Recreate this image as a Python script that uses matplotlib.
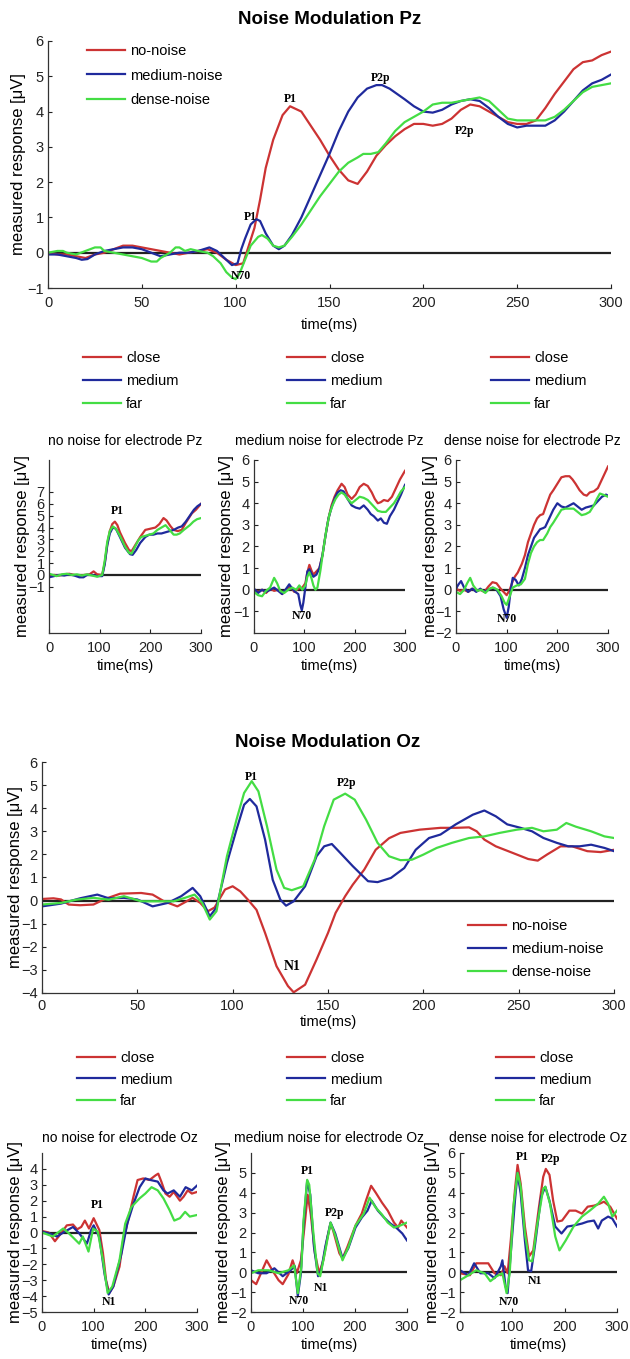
import matplotlib
matplotlib.use("Agg")
import matplotlib.pyplot as plt

# ---------------- data (time ms, response uV) ----------------
# Noise Modulation Pz (main)
pz_no_noise = [(0,0.0),(5,-0.05),(10,-0.05),(15,-0.1),(20,-0.15),(25,-0.05),(30,0.0),(35,0.1),(40,0.2),(45,0.2),
    (50,0.15),(55,0.1),(60,0.05),(65,0.0),(70,-0.05),(75,0.0),(80,0.05),(85,0.1),(90,0.0),(95,-0.2),(100,-0.35),
    (104,-0.3),(107,0.2),(110,0.7),(113,1.5),(116,2.4),(120,3.2),(125,3.9),(129,4.15),(135,4.0),(140,3.6),(145,3.2),
    (150,2.75),(155,2.35),(160,2.05),(165,1.95),(170,2.3),(175,2.75),(180,3.05),(185,3.3),(190,3.5),(195,3.65),
    (200,3.65),(205,3.6),(210,3.65),(215,3.8),(220,4.05),(225,4.2),(230,4.15),(235,4.0),(240,3.85),(245,3.7),
    (250,3.65),(255,3.65),(260,3.75),(265,4.1),(270,4.5),(275,4.85),(280,5.2),(285,5.4),(290,5.45),(295,5.6),(300,5.7)]
pz_medium_noise = [(0,-0.05),(5,-0.05),(10,-0.1),(15,-0.15),(18,-0.2),(21,-0.18),(25,-0.05),(30,0.05),(35,0.1),
    (40,0.15),(45,0.15),(50,0.1),(55,0.0),(60,-0.1),(65,-0.05),(70,0.0),(75,0.0),(80,0.05),(86,0.15),(90,0.05),
    (95,-0.2),(98,-0.35),(101,-0.3),(103,0.1),(105,0.4),(108,0.8),(111,0.95),(113,0.9),(116,0.55),(120,0.2),
    (123,0.1),(126,0.2),(130,0.5),(135,1.0),(140,1.6),(145,2.2),(150,2.8),(155,3.45),(160,4.0),(165,4.4),(170,4.65),
    (175,4.75),(178,4.75),(182,4.65),(186,4.5),(190,4.35),(195,4.15),(200,4.0),(205,3.97),(210,4.05),(215,4.2),
    (220,4.3),(225,4.35),(230,4.3),(235,4.1),(240,3.85),(245,3.65),(250,3.55),(255,3.6),(260,3.6),(265,3.6),
    (270,3.75),(275,4.0),(280,4.3),(285,4.6),(290,4.8),(295,4.9),(300,5.05)]
pz_dense_noise = [(0,0.0),(5,0.05),(8,0.05),(10,0.0),(15,-0.05),(20,0.05),(25,0.15),(28,0.15),(30,0.05),(35,0.0),
    (40,-0.05),(45,-0.1),(50,-0.15),(55,-0.25),(58,-0.25),(60,-0.15),(65,0.0),(68,0.15),(70,0.15),(73,0.05),(76,0.1),
    (80,0.05),(85,0.0),(88,-0.1),(92,-0.3),(95,-0.55),(98,-0.7),(100,-0.75),(102,-0.6),(105,-0.2),(108,0.2),
    (112,0.45),(114,0.5),(117,0.4),(120,0.2),(123,0.15),(126,0.2),(130,0.45),(135,0.8),(140,1.2),(145,1.6),
    (150,1.95),(155,2.3),(160,2.55),(165,2.7),(168,2.8),(172,2.8),(176,2.85),(180,3.1),(185,3.45),(190,3.7),
    (195,3.85),(200,4.0),(205,4.2),(210,4.25),(215,4.25),(220,4.3),(225,4.35),(230,4.4),(235,4.3),(240,4.05),
    (245,3.8),(250,3.75),(255,3.75),(260,3.75),(265,3.75),(270,3.85),(275,4.05),(280,4.3),(285,4.55),(290,4.7),
    (295,4.75),(300,4.8)]

# Pz sub-panels: no noise
pz_nn_close = [(0,-0.1),(10,0.0),(20,-0.05),(30,0.05),(40,0.1),(50,0.0),(60,-0.05),(70,0.0),(80,0.05),(88,0.3),
    (95,0.05),(105,0.0),(110,1.0),(115,2.6),(120,3.7),(125,4.3),(130,4.5),(135,4.2),(140,3.6),(150,2.7),(158,2.1),
    (163,2.0),(170,2.5),(180,3.2),(190,3.8),(200,3.9),(210,4.0),(218,4.3),(226,4.8),(232,4.6),(240,4.1),(246,3.8),
    (254,3.7),(262,3.8),(270,4.4),(276,4.8),(282,5.2),(290,5.5),(300,6.0)]
pz_nn_medium = [(0,-0.2),(10,-0.1),(20,0.0),(30,-0.05),(40,0.05),(50,-0.05),(60,-0.2),(68,-0.2),(75,0.0),(85,0.0),
    (95,-0.1),(105,-0.1),(110,0.9),(115,2.5),(120,3.5),(126,4.0),(132,3.9),(140,3.2),(150,2.3),(160,1.75),(165,1.7),
    (172,2.1),(180,2.7),(190,3.2),(198,3.4),(206,3.4),(214,3.5),(222,3.5),(230,3.6),(238,3.7),(246,3.8),(255,4.0),
    (262,4.1),(270,4.5),(278,5.0),(286,5.5),(293,5.8),(300,6.0)]
pz_nn_far = [(0,0.1),(8,0.0),(15,-0.1),(25,0.05),(35,0.1),(45,0.0),(55,0.05),(65,-0.05),(75,0.05),(85,-0.05),
    (95,-0.15),(105,0.0),(110,1.2),(115,2.8),(120,3.7),(126,4.1),(132,3.9),(140,3.3),(150,2.4),(158,1.85),(163,1.8),
    (170,2.4),(176,2.9),(182,3.2),(190,3.3),(198,3.4),(206,3.5),(214,3.8),(222,4.0),(230,4.2),(238,3.8),(246,3.4),
    (252,3.4),(258,3.5),(266,3.8),(272,4.0),(278,4.2),(285,4.5),(292,4.7),(300,4.8)]

# Pz sub-panels: medium noise
pz_mn_close = [(0,0.0),(8,-0.1),(16,0.0),(24,-0.15),(32,0.05),(40,-0.05),(48,0.0),(56,-0.2),(64,0.0),(72,0.15),
    (80,-0.1),(88,0.05),(96,0.1),(102,0.3),(106,0.8),(110,1.15),(114,0.9),(118,0.7),(124,0.85),(130,1.0),(136,1.6),
    (142,2.5),(148,3.3),(154,3.9),(160,4.3),(166,4.6),(174,4.9),(180,4.75),(186,4.4),(194,4.2),(202,4.4),(210,4.75),
    (218,4.9),(226,4.8),(234,4.5),(240,4.2),(246,4.0),(252,4.05),(258,4.15),(266,4.1),(274,4.3),(282,4.7),(290,5.1),
    (300,5.5)]
pz_mn_medium = [(0,0.05),(8,-0.15),(16,0.0),(24,-0.1),(32,0.0),(40,0.1),(48,-0.05),(56,-0.2),(64,0.05),(70,0.25),
    (76,0.05),(82,-0.1),(88,-0.2),(92,-0.7),(95,-0.95),(98,-0.6),(102,0.1),(106,0.85),(110,0.95),(114,0.75),
    (118,0.6),(124,0.7),(130,1.0),(136,1.6),(142,2.5),(148,3.3),(154,3.8),(160,4.2),(166,4.5),(172,4.6),(178,4.55),
    (186,4.2),(194,3.9),(202,3.8),(210,3.75),(218,3.9),(226,3.7),(232,3.5),(238,3.4),(246,3.2),(252,3.3),(258,3.1),
    (264,3.05),(270,3.4),(278,3.7),(286,4.1),(292,4.4),(300,4.85)]
pz_mn_far = [(0,-0.1),(8,-0.25),(16,-0.3),(24,-0.05),(32,0.1),(40,0.55),(46,0.3),(52,-0.05),(60,-0.15),(68,0.0),
    (76,0.1),(84,0.0),(90,0.2),(96,0.0),(102,0.2),(106,0.6),(110,0.8),(114,0.55),(118,0.2),(122,0.0),(126,0.1),
    (132,0.9),(138,1.9),(144,2.8),(150,3.5),(156,3.9),(162,4.2),(168,4.4),(174,4.5),(180,4.4),(186,4.2),(194,4.0),
    (202,4.15),(210,4.3),(218,4.25),(226,4.15),(234,3.95),(240,3.8),(246,3.65),(254,3.6),(262,3.6),(270,3.8),
    (278,4.0),(286,4.3),(292,4.55),(300,4.75)]

# Pz sub-panels: dense noise
pz_dn_close = [(0,0.05),(8,-0.05),(16,0.0),(24,-0.1),(32,0.05),(40,-0.05),(48,0.0),(56,-0.1),(64,0.15),(72,0.35),
    (80,0.3),(88,0.05),(96,-0.15),(100,-0.25),(106,0.0),(112,0.4),(116,0.6),(122,0.8),(130,1.2),(136,1.6),(142,2.2),
    (148,2.6),(154,3.0),(160,3.3),(166,3.45),(172,3.5),(178,3.9),(186,4.4),(192,4.6),(200,4.9),(208,5.2),(216,5.25),
    (224,5.25),(230,5.1),(236,4.9),(244,4.6),(252,4.4),(258,4.35),(264,4.5),(272,4.55),(280,4.7),(288,5.1),
    (294,5.4),(300,5.7)]
pz_dn_medium = [(0,0.05),(5,0.25),(10,0.4),(16,0.1),(24,-0.1),(32,0.05),(40,-0.1),(48,0.05),(56,-0.1),(64,0.0),
    (72,0.1),(80,0.0),(88,-0.3),(94,-0.9),(100,-1.3),(104,-0.8),(108,0.0),(112,0.55),(118,0.45),(124,0.2),(130,0.5),
    (136,1.0),(142,1.6),(148,2.0),(154,2.4),(160,2.6),(166,2.8),(172,2.85),(176,2.9),(184,3.3),(192,3.7),(200,4.0),
    (208,3.85),(216,3.8),(224,3.9),(232,4.0),(240,3.85),(248,3.7),(256,3.8),(264,3.85),(272,3.9),(280,4.1),
    (288,4.3),(296,4.4),(300,4.35)]
pz_dn_far = [(0,-0.1),(8,-0.2),(16,0.0),(22,0.3),(28,0.55),(34,0.2),(42,-0.05),(50,0.0),(58,-0.15),(66,0.05),
    (74,0.1),(82,0.0),(90,-0.3),(96,-0.6),(100,-0.7),(106,-0.3),(112,0.1),(120,0.2),(128,0.25),(136,0.5),(142,1.2),
    (148,1.7),(154,2.0),(160,2.2),(166,2.3),(172,2.3),(180,2.6),(186,2.9),(192,3.1),(200,3.4),(208,3.7),(216,3.75),
    (224,3.75),(232,3.75),(240,3.6),(248,3.45),(256,3.5),(264,3.6),(272,3.9),(278,4.2),(284,4.45),(290,4.4),(300,4.3)]

# Noise Modulation Oz (main)
oz_no_noise = [(0,0.07),(6,0.1),(10,0.05),(14,-0.17),(20,-0.2),(27,-0.17),(33,0.07),(41,0.3),(52,0.33),(58,0.26),
    (64,-0.03),(71,-0.25),(75,-0.07),(79,0.12),(83,-0.1),(87,-0.46),(90.5,-0.3),(96,0.48),(100,0.62),(104,0.4),
    (108,0.04),(112.5,-0.4),(117,-1.4),(123,-2.84),(129,-3.7),(132,-3.97),(138,-3.64),(144,-2.55),(150,-1.4),
    (154,-0.53),(159,0.19),(163,0.69),(169,1.34),(175,2.2),(182,2.7),(188,2.93),(198,3.07),(209,3.15),(217,3.15),
    (224,3.17),(228,3.0),(232,2.64),(238,2.35),(247,2.06),(255,1.8),(260,1.73),(265,2.0),(272,2.35),(278,2.35),
    (286,2.14),(293,2.1),(300,2.2)]
oz_medium_noise = [(0,-0.25),(10,-0.13),(20,0.1),(29,0.26),(35,0.1),(43,0.12),(50,0.05),(58,-0.25),(66,-0.1),
    (73,0.19),(79,0.55),(83,0.19),(88,-0.68),(91.5,-0.3),(97,1.63),(102,3.07),(106,4.15),(109,4.4),(112.5,4.08),
    (117,2.64),(121,0.9),(125,0.04),(128,-0.22),(132,-0.03),(138,0.62),(144,1.92),(148,2.35),(152,2.45),(156.5,2.06),
    (163,1.49),(171,0.84),(176,0.8),(183,0.98),(190,1.41),(196,2.2),(203,2.71),(209,2.86),(217,3.3),(226,3.72),
    (232,3.9),(238,3.65),(244,3.3),(251,3.15),(257,3.0),(263,2.71),(270,2.5),(276,2.35),(282,2.35),(288,2.42),
    (295,2.28),(300,2.14)]
oz_dense_noise = [(0,-0.17),(10,-0.1),(18,0.04),(27,0.12),(35,0.04),(43,0.19),(52,-0.03),(60,-0.03),(69,-0.03),
    (75,0.12),(80,0.26),(84,-0.1),(88,-0.82),(91.5,-0.46),(97,1.92),(102,3.5),(106,4.66),(110,5.17),(113.5,4.73),
    (118,3.22),(123,1.34),(127,0.55),(131,0.45),(137,0.62),(143,1.77),(148,3.22),(153,4.37),(159,4.63),(164,4.37),
    (170,3.5),(176,2.5),(182,1.92),(188,1.75),(194,1.77),(200,1.99),(207,2.28),(215,2.5),(224,2.71),(232,2.78),
    (240,2.93),(249,3.07),(257,3.15),(263,3.0),(270,3.07),(275,3.36),(280,3.2),(288,3.0),(295,2.78),(300,2.71)]

# Oz sub-panels: no noise
oz_nn_close = [(0,0.1),(13,0.0),(25,-0.55),(37,-0.05),(48,0.45),(60,0.5),(68,0.2),(76,0.35),(83,0.75),(91,0.25),
    (100,0.9),(111,0.15),(118,-1.3),(124,-3.0),(130,-3.8),(138,-3.4),(150,-2.15),(157,-0.5),(165,0.55),(177,2.25),
    (185,3.3),(196,3.4),(208,3.3),(220,3.6),(225,3.7),(231,3.2),(239,2.45),(247,2.25),(255,2.55),(267,2.0),
    (274,2.25),(282,2.65),(290,2.45),(300,2.55)]
oz_nn_medium = [(0,0.05),(13,-0.05),(29,-0.25),(44,0.05),(60,0.35),(72,-0.05),(87,-0.7),(95,0.15),(100,0.45),
    (111,-0.3),(121,-2.6),(129,-3.9),(138,-3.4),(154,-1.3),(165,0.55),(177,1.8),(189,2.85),(200,3.4),(210,3.3),
    (224,3.2),(235,2.65),(243,2.45),(255,2.65),(267,2.25),(278,2.85),(290,2.65),(300,2.95)]
oz_nn_far = [(0,0.0),(21,-0.25),(41,0.25),(52,-0.05),(72,-0.7),(79,-0.25),(90,-1.2),(99,0.25),(108,0.05),
    (118,-1.75),(127,-3.8),(136,-3.4),(150,-1.75),(161,0.55),(173,1.6),(189,2.15),(200,2.45),(212,2.85),(224,2.65),
    (235,2.15),(247,1.4),(256,0.75),(267,0.9),(277,1.3),(286,1.0),(300,1.1)]

# Oz sub-panels: medium noise
oz_mn_close = [(0,-0.4),(10,-0.6),(30,0.6),(41,0.1),(53,-0.4),(61,-0.6),(72,-0.1),(80,0.6),(88,-0.05),(96,0.6),
    (104,2.6),(109,3.9),(115,2.9),(123,0.95),(131,-0.05),(139,0.6),(147,1.75),(153,2.45),(158,2.1),(170,0.95),
    (176,0.7),(185,1.25),(201,2.35),(213,2.95),(221,3.6),(231,4.35),(240,4.0),(252,3.5),(263,3.1),(275,2.5),
    (283,2.25),(289,2.6),(300,2.25)]
oz_mn_medium = [(0,0.1),(14,-0.05),(30,-0.05),(45,0.2),(61,-0.2),(76,0.1),(84,0.3),(90,-1.2),(96,-0.05),(101,2.4),
    (108,4.6),(114,3.9),(121,1.3),(129,-0.2),(135,0.1),(143,1.3),(153,2.5),(162,1.95),(176,0.7),(187,1.2),(201,2.25),
    (213,2.75),(224,3.1),(232,3.6),(244,3.1),(256,2.75),(268,2.45),(279,2.25),(291,1.95),(300,1.6)]
oz_mn_far = [(0,-0.05),(14,0.1),(34,0.1),(53,-0.05),(72,0.1),(83,0.35),(90,-1.05),(97,0.3),(101,2.6),(108,4.65),
    (112,4.4),(120,1.95),(128,-0.05),(133,-0.2),(143,1.1),(153,2.5),(162,1.85),(176,0.6),(187,1.25),(201,2.35),
    (217,2.95),(228,3.75),(240,3.25),(252,2.9),(263,2.5),(275,2.25),(287,2.35),(300,2.5)]

# Oz sub-panels: dense noise
oz_dn_close = [(0,-0.05),(19,-0.15),(31,0.45),(54,0.45),(66,-0.05),(78,-0.15),(85,0.3),(91,-0.05),(97,1.6),
    (105,4.15),(110,5.4),(116,4.45),(124,2.3),(132,0.8),(140,1.1),(151,3.3),(159,4.8),(164,5.2),(171,4.9),(178,3.6),
    (186,2.55),(195,2.6),(209,3.1),(221,3.1),(233,2.95),(244,3.3),(256,3.35),(267,3.45),(275,3.55),(287,3.3),(300,2.7)]
oz_dn_medium = [(0,0.1),(16,-0.15),(27,0.45),(39,-0.05),(54,-0.05),(66,-0.3),(78,0.3),(81,0.6),(87,-0.7),(91,-1.05),
    (97,0.95),(105,3.6),(110,5.0),(116,3.95),(124,1.6),(130,0.1),(136,0.05),(143,1.3),(155,3.8),(163,4.3),(171,3.6),
    (182,2.3),(194,1.95),(205,2.3),(217,2.35),(233,2.45),(244,2.55),(256,2.6),(264,2.2),(271,2.6),(283,2.8),
    (291,2.7),(300,2.3)]
oz_dn_far = [(0,-0.4),(16,-0.15),(31,0.1),(47,-0.05),(58,-0.45),(70,-0.2),(81,-0.05),(89,-1.05),(95,-0.05),
    (102,3.3),(110,5.0),(116,4.3),(124,1.95),(132,0.6),(138,0.55),(147,2.3),(159,4.2),(163,4.3),(172,3.45),(182,1.8),
    (190,1.1),(202,1.6),(217,2.3),(233,2.8),(248,3.1),(264,3.45),(275,3.8),(283,3.45),(291,2.8),(300,3.1)]

main_labels = ["no-noise", "medium-noise", "dense-noise"]
sub_labels = ["close", "medium", "far"]
sub_titles_pz = ["no noise for electrode Pz", "medium noise for electrode Pz", "dense noise for electrode Pz"]
sub_titles_oz = ["no noise for electrode Oz", "medium noise for electrode Oz", "dense noise for electrode Oz"]

# ---------------- styling ----------------
W, H = 630, 1359
RED, BLUE, GREEN = "#cc3333", "#1f2a9c", "#44dd44"
COLORS = [RED, BLUE, GREEN]
SANS = ["Liberation Sans", "DejaVu Sans"]
SERIF = ["Liberation Serif", "DejaVu Serif"]
LW = 1.6
TICK_FS = 10.5
LEG_FS = 10.5
SUBTITLE_FS = 10
XLAB_FS = 10.5
YLAB_FS = 12.0

plt.rcParams["font.family"] = SANS

fig = plt.figure(figsize=(W / 100, H / 100), dpi=100)


def add_ax(l, t, r, b):
    return fig.add_axes([l / W, 1 - b / H, (r - l) / W, (b - t) / H])


def style_ax(ax, l, t, r, b, xticks, ylim, yticks, ylab_x, xlab_y, xpad=6):
    ax.set_xlim(0, 300)
    ax.set_ylim(*ylim)
    ax.set_xticks(xticks)
    ax.set_yticks(yticks)
    ax.spines["top"].set_visible(False)
    ax.spines["right"].set_visible(False)
    for s in ("left", "bottom"):
        ax.spines[s].set_linewidth(0.9)
        ax.spines[s].set_color("#333333")
    ax.tick_params(direction="in", length=3, width=0.8, labelsize=TICK_FS, colors="#222222")
    ax.tick_params(axis="x", pad=xpad)
    ax.tick_params(axis="y", pad=3)
    ax.axhline(0, color="#222222", lw=1.6, zorder=1.5)
    ax.set_ylabel("measured response [\u03bcV]", fontsize=YLAB_FS)
    ax.yaxis.label.set_verticalalignment("center")
    ax.yaxis.set_label_coords((ylab_x - l) / (r - l), 0.5)
    ax.set_xlabel("time(ms)", fontsize=XLAB_FS)
    ax.xaxis.set_label_coords(0.5, -(xlab_y - b) / (b - t))


def plot_series(ax, series_list, labels):
    handles = []
    for data, c, lab in zip(series_list, COLORS, labels):
        t = [p[0] for p in data]
        v = [p[1] for p in data]
        h, = ax.plot(t, v, color=c, lw=LW, label=lab, zorder=2, solid_joinstyle="round")
        handles.append(h)
    return handles


def annotate(ax, txt, x, y, fs=8.5):
    ax.text(x, y, txt, family=SERIF, weight="bold", fontsize=fs, ha="center", va="center", zorder=3)


def legend_at(handles, labels, x_px, y_px, spacing):
    fig.legend(handles, labels, loc="upper left", bbox_to_anchor=(x_px / W, 1 - y_px / H),
               frameon=False, fontsize=LEG_FS, handlelength=2.6, handletextpad=0.35,
               labelspacing=spacing, borderpad=0, borderaxespad=0)


# ---------------- Pz main ----------------
l, t, r, b = 48, 41, 611, 288
ax = add_ax(l, t, r, b)
hs = plot_series(ax, [pz_no_noise, pz_medium_noise, pz_dense_noise], main_labels)
style_ax(ax, l, t, r, b, range(0, 301, 50), (-1, 6), range(-1, 7), 18, 318)
ax.set_title("Noise Modulation Pz", fontsize=13.5, weight="bold", pad=12)
annotate(ax, "P1", 129, 4.35)
annotate(ax, "P1", 108, 1.0)
annotate(ax, "N70", 103, -0.65)
annotate(ax, "P2p", 177, 4.95)
annotate(ax, "P2p", 222, 3.45)
legend_at(hs, main_labels, 87, 44, 0.72)

# ---------------- Pz sub-panels ----------------
pz_sub = [
    ((49, 460, 201, 633), [pz_nn_close, pz_nn_medium, pz_nn_far], (-4.9, 9.7), range(-1, 8),
     [("P1", 134, 5.4)]),
    ((254, 460, 405, 633), [pz_mn_close, pz_mn_medium, pz_mn_far], (-2, 6), range(-1, 7),
     [("P1", 110, 1.85), ("N70", 95, -1.2)]),
    ((456, 460, 608, 633), [pz_dn_close, pz_dn_medium, pz_dn_far], (-2, 6), range(-2, 7),
     [("N70", 100, -1.35)]),
]
leg_x_pz = [83, 287, 491]
ylab_x_pz = [22, 226, 430]
for (box, series, ylim, yt, ann), title, lx, yx in zip(pz_sub, sub_titles_pz, leg_x_pz, ylab_x_pz):
    l, t, r, b = box
    ax = add_ax(l, t, r, b)
    hs = plot_series(ax, series, sub_labels)
    style_ax(ax, l, t, r, b, [0, 100, 200, 300], ylim, yt, yx, 659)
    ax.set_title(title, fontsize=SUBTITLE_FS, pad=11)
    for txt, x, y in ann:
        annotate(ax, txt, x, y)
    legend_at(hs, sub_labels, lx, 351, 0.62)

# ---------------- Oz main ----------------
l, t, r, b = 42, 762, 614, 993
ax = add_ax(l, t, r, b)
hs = plot_series(ax, [oz_no_noise, oz_medium_noise, oz_dense_noise], main_labels)
style_ax(ax, l, t, r, b, range(0, 301, 50), (-4, 6), range(-4, 7), 16, 1015, xpad=4)
ax.set_title("Noise Modulation Oz", fontsize=13.5, weight="bold", pad=11)
annotate(ax, "P1", 110, 5.35)
annotate(ax, "P2p", 160, 5.1)
annotate(ax, "N1", 131, -2.85, fs=10)
legend_at(hs, main_labels, 468, 919, 0.62)

# ---------------- Oz sub-panels ----------------
oz_sub = [
    ((42, 1153, 197, 1312), [oz_nn_close, oz_nn_medium, oz_nn_far], (-5, 5), range(-5, 5),
     [("P1", 107, 1.7), ("N1", 129, -4.35)]),
    ((251, 1153, 407, 1312), [oz_mn_close, oz_mn_medium, oz_mn_far], (-2, 6), range(-2, 6),
     [("P1", 109, 5.1), ("P2p", 160, 3.0), ("N1", 135, -0.8), ("N70", 92, -1.45)]),
    ((460, 1153, 617, 1312), [oz_dn_close, oz_dn_medium, oz_dn_far], (-2, 6), range(-2, 7),
     [("P1", 119, 5.8), ("P2p", 174, 5.7), ("N1", 143, -0.45), ("N70", 93, -1.5)]),
]
leg_x_oz = [77, 287, 496]
ylab_x_oz = [16, 224, 432]
for (box, series, ylim, yt, ann), title, lx, yx in zip(oz_sub, sub_titles_oz, leg_x_oz, ylab_x_oz):
    l, t, r, b = box
    ax = add_ax(l, t, r, b)
    hs = plot_series(ax, series, sub_labels)
    style_ax(ax, l, t, r, b, [0, 100, 200, 300], ylim, yt, yx, 1338)
    ax.set_title(title, fontsize=SUBTITLE_FS, pad=8)
    for txt, x, y in ann:
        annotate(ax, txt, x, y)
    legend_at(hs, sub_labels, lx, 1051, 0.52)

fig.savefig("out.png", dpi=100, facecolor="white")
